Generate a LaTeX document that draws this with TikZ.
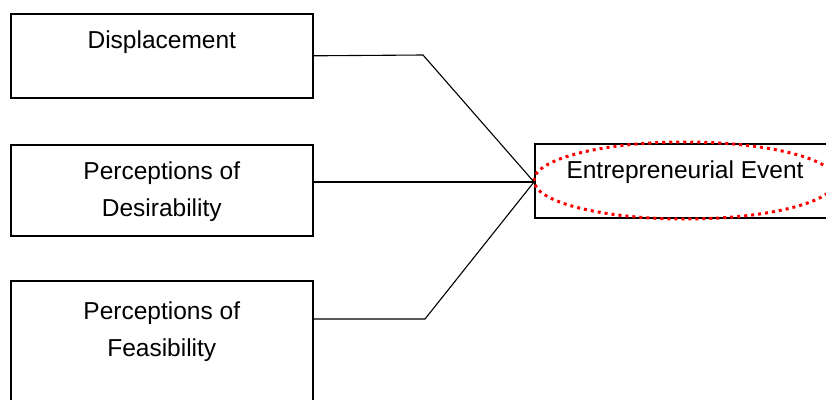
\documentclass[tikz,border=0pt]{standalone}
\usepackage{fontspec}
\setmainfont{Liberation Sans}
\usetikzlibrary{positioning,shapes.geometric}

\begin{document}
\begin{tikzpicture}[
  x = 1pt, y = -1pt,
  factor/.style = {draw, line width = 1.6pt, minimum width = 302pt, inner sep = 0pt, anchor = north west},
  caption/.style = {align = center, inner sep = 0pt, font = \fontsize{24.5}{37}\selectfont},
  ring/.style = {ellipse, draw = red, line width = 3pt, dash pattern = on 3pt off 4pt, minimum width = 302pt, minimum height = 77pt, inner sep = 0pt},
  link/.style = {line width = 1.1pt},
  ]
  \useasboundingbox (0,0) rectangle (826,399);
  % factors on the left
  \node[factor, minimum height = 84pt] (disp) at (10,13) {};
  \node[caption, below = 18pt of disp.north] (disptext) {Displacement};
  \node[factor, minimum height = 91pt] (desi) at (10,144) {};
  \node[caption, below = 18pt of desi.north] (desitext) {Perceptions of\\Desirability};
  \node[factor, minimum height = 130pt] (feas) at (10,280) {};
  \node[caption, below = 22pt of feas.north] (feastext) {Perceptions of\\Feasibility};
  % outcome on the right
  \node[factor, minimum width = 310pt, minimum height = 74pt] (event) at (534,143) {};
  \node[caption, anchor = north] (eventtext) at (685,161) {Entrepreneurial Event};
  \node[ring] (eventring) at (685,180.5) {};
  % connectors
  \coordinate (meet) at (534,182);
  \coordinate (bendtop) at (423,55);
  \coordinate (bendlow) at (425,319);
  \draw[link] (disp.east) -- (bendtop) -- (meet);
  \draw[link] (desi.east |- meet) -- (meet);
  \draw[link] (feas.east |- bendlow) -- (bendlow) -- (meet);
\end{tikzpicture}
\end{document}
